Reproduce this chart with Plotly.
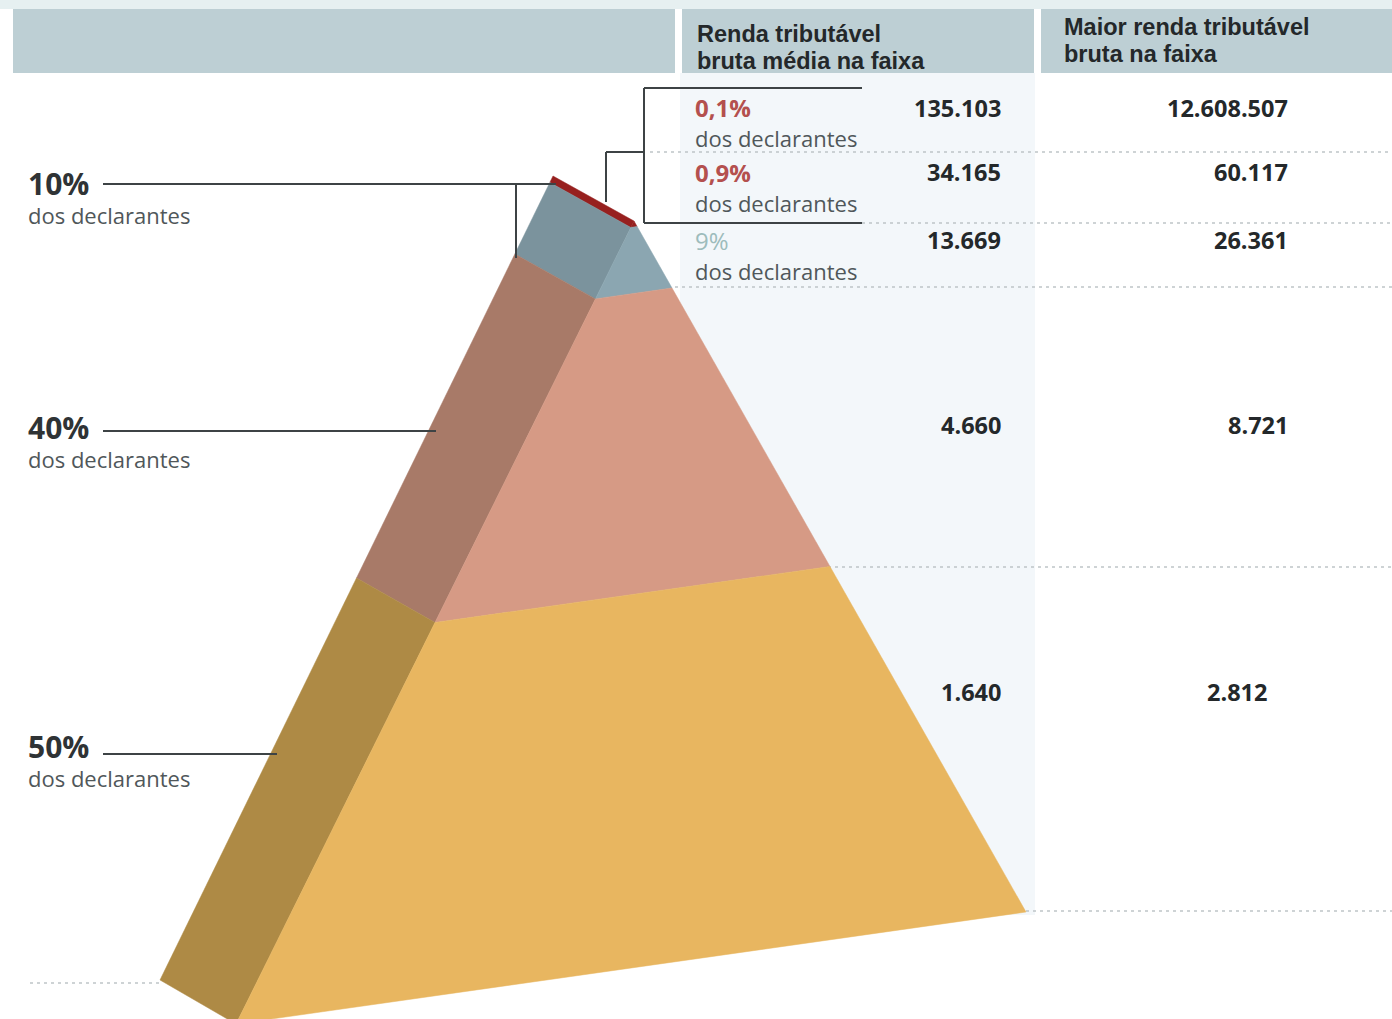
import plotly.graph_objects as go

# Income bands, top of the pyramid downwards
share_labels = ["0,1%", "0,9%", "9%", "40%", "50%"]
mean_income = ["135.103", "34.165", "13.669", "4.660", "1.640"]
max_income = ["12.608.507", "60.117", "26.361", "8.721", "2.812"]
caption = "dos declarantes"
header_mean = ["Renda tributável", "bruta média na faixa"]
header_max = ["Maior renda tributável", "bruta na faixa"]

# Cumulative position of each band boundary along the pyramid's slope
band_levels = [0.0, 0.008, 0.097, 0.5, 1.0]
side_colors = ["#97201f", "#7b939d", "#a87a68", "#ae8a45"]
front_colors = ["#97201f", "#8ba6b1", "#d69a85", "#e8b660"]

# Pyramid corners in page units
APEX_BACK = (553, 176)
APEX_FRONT = (634, 221)
BASE_BACK = (160, 980)
BASE_MID = (236, 1024)
BASE_RIGHT = (1026, 912)


def along(p, q, t):
    return (p[0] + (q[0] - p[0]) * t, p[1] + (q[1] - p[1]) * t)


def polygon(points, color):
    xs = [p[0] for p in points] + [points[0][0]]
    ys = [p[1] for p in points] + [points[0][1]]
    return go.Scatter(x=xs, y=ys, mode="lines", fill="toself", fillcolor=color,
                      line=dict(color=color, width=0.5), hoverinfo="skip", showlegend=False)


fig = go.Figure()
for i in range(len(band_levels) - 1):
    a, b = band_levels[i], band_levels[i + 1]
    fig.add_trace(polygon([
        along(APEX_BACK, BASE_BACK, a), along(APEX_FRONT, BASE_MID, a),
        along(APEX_FRONT, BASE_MID, b), along(APEX_BACK, BASE_BACK, b)], side_colors[i]))
    fig.add_trace(polygon([
        along(APEX_FRONT, BASE_MID, a), along(APEX_FRONT, BASE_RIGHT, a),
        along(APEX_FRONT, BASE_RIGHT, b), along(APEX_FRONT, BASE_MID, b)], front_colors[i]))

shapes = [
    dict(type="rect", x0=0, x1=1392, y0=0, y1=9, fillcolor="#e6f0f1", line_width=0, layer="below"),
    dict(type="rect", x0=13, x1=675, y0=9, y1=73, fillcolor="#bdcfd4", line_width=0, layer="below"),
    dict(type="rect", x0=682, x1=1034, y0=9, y1=73, fillcolor="#bdcfd4", line_width=0, layer="below"),
    dict(type="rect", x0=1041, x1=1392, y0=9, y1=73, fillcolor="#bdcfd4", line_width=0, layer="below"),
    dict(type="rect", x0=680, x1=1035, y0=73, y1=915, fillcolor="#f3f7fa", line_width=0, layer="below"),
]
for x0, x1, y in [(650, 1392, 152), (862, 1392, 223), (668, 1392, 287), (828, 1392, 567),
                  (1026, 1392, 911), (30, 160, 983)]:
    shapes.append(dict(type="line", x0=x0, x1=x1, y0=y, y1=y, layer="below",
                       line=dict(color="#bfc5c8", width=1.5, dash="3px 4px")))
for x0, y0, x1, y1 in [(103, 184, 556, 184), (516, 184, 516, 258), (103, 431, 436, 431),
                       (103, 754, 277, 754), (862, 88, 644, 88), (644, 88, 644, 223),
                       (644, 223, 862, 223), (606, 152, 644, 152), (606, 152, 606, 202)]:
    shapes.append(dict(type="line", x0=x0, y0=y0, x1=x1, y1=y1,
                       line=dict(color="#3d4345", width=2)))


def label(x, y, text, size, color="#2b2f31", bold=False, anchor="left", family="Open Sans"):
    fig.add_annotation(x=x, y=y, text=f"<b>{text}</b>" if bold else text, showarrow=False,
                       xanchor=anchor, yanchor="middle", align="left",
                       font=dict(family=family, size=size, color=color))


INK = "#24282a"
GREY = "#50575a"
# Header cells, two tightly set lines each
for text, y in zip(header_mean, [34, 61]):
    label(695, y, text, 23.5, INK, True, family="Liberation Sans")
for text, y in zip(header_max, [27, 54]):
    label(1062, y, text, 23.5, INK, True, family="Liberation Sans")

# Bracketed shares beside the tip
share_rows = [107, 172, 240]
share_colors = ["#b4504e", "#b4504e", "#9dbcbc"]
for i, y in enumerate(share_rows):
    label(693, y, share_labels[i], 24, share_colors[i], i < 2)
    label(693, y + 31, caption, 22, GREY)

# Leader-line shares on the left
for text, y in [("10%", 183), (share_labels[3], 427), (share_labels[4], 746)]:
    label(26, y, text, 30, "#2f3335", True)
    label(26, y + 32, caption, 22, GREY)

# Income columns
rows = [108, 172, 240, 425, 692]
max_right = [1290, 1290, 1290, 1290, 1269]
for i, y in enumerate(rows):
    label(1003, y, mean_income[i], 23.5, INK, True, "right")
    label(max_right[i], y, max_income[i], 23.5, INK, True, "right")

fig.update_layout(
    width=1392, height=1019, margin=dict(l=0, r=0, t=0, b=0),
    paper_bgcolor="white", plot_bgcolor="white", showlegend=False, shapes=shapes,
    xaxis=dict(range=[0, 1392], visible=False, fixedrange=True),
    yaxis=dict(range=[1019, 0], visible=False, fixedrange=True),
)
fig.write_html("out.html", config=dict(displayModeBar=False))
